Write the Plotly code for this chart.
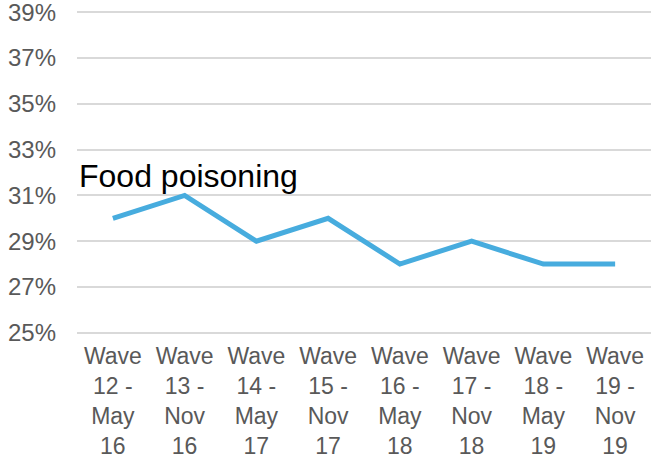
import plotly.graph_objects as go

categories = [
    "Wave<br>12 -<br>May<br>16",
    "Wave<br>13 -<br>Nov<br>16",
    "Wave<br>14 -<br>May<br>17",
    "Wave<br>15 -<br>Nov<br>17",
    "Wave<br>16 -<br>May<br>18",
    "Wave<br>17 -<br>Nov<br>18",
    "Wave<br>18 -<br>May<br>19",
    "Wave<br>19 -<br>Nov<br>19",
]
food_poisoning = [30, 31, 29, 30, 28, 29, 28, 28]
y_ticks = [25, 27, 29, 31, 33, 35, 37, 39]
y_tick_labels = ["25%", "27%", "29%", "31%", "33%", "35%", "37%", "39%"]
series_name = "Food poisoning"

fig = go.Figure()
fig.add_trace(go.Scatter(
    x=categories, y=food_poisoning, mode="lines",
    line=dict(color="#47ACDE", width=5),
    name=series_name, showlegend=False,
))

fig.add_annotation(
    text=series_name, xref="paper", yref="y", x=0.0, y=31.86,
    xanchor="left", yanchor="middle", showarrow=False,
    font=dict(family="Liberation Sans, Arial", size=32, color="#000000"),
)

fig.update_layout(
    width=661, height=460,
    margin=dict(l=77, r=10, t=10, b=125),
    paper_bgcolor="white", plot_bgcolor="white",
    font=dict(family="Liberation Sans, Arial", size=23, color="#595959"),
)
fig.update_xaxes(
    range=[-0.5, 7.5], showgrid=False, showline=False, zeroline=False,
    tickfont=dict(size=23, color="#595959"), ticks="", ticklabelstandoff=5,
    automargin=False,
)
fig.update_yaxes(
    range=[24.9, 39.1], tickvals=y_ticks, ticktext=y_tick_labels,
    showgrid=True, gridcolor="#D9D9D9", gridwidth=1.5,
    zeroline=False, showline=False, ticks="",
    tickfont=dict(size=24, color="#595959"), ticklabelstandoff=20,
    ticklabeloverflow="allow", automargin=False,
)

fig.write_html(
    "out.html",
    config={"displayModeBar": False},
    post_script="document.body.style.margin='0';",
)
